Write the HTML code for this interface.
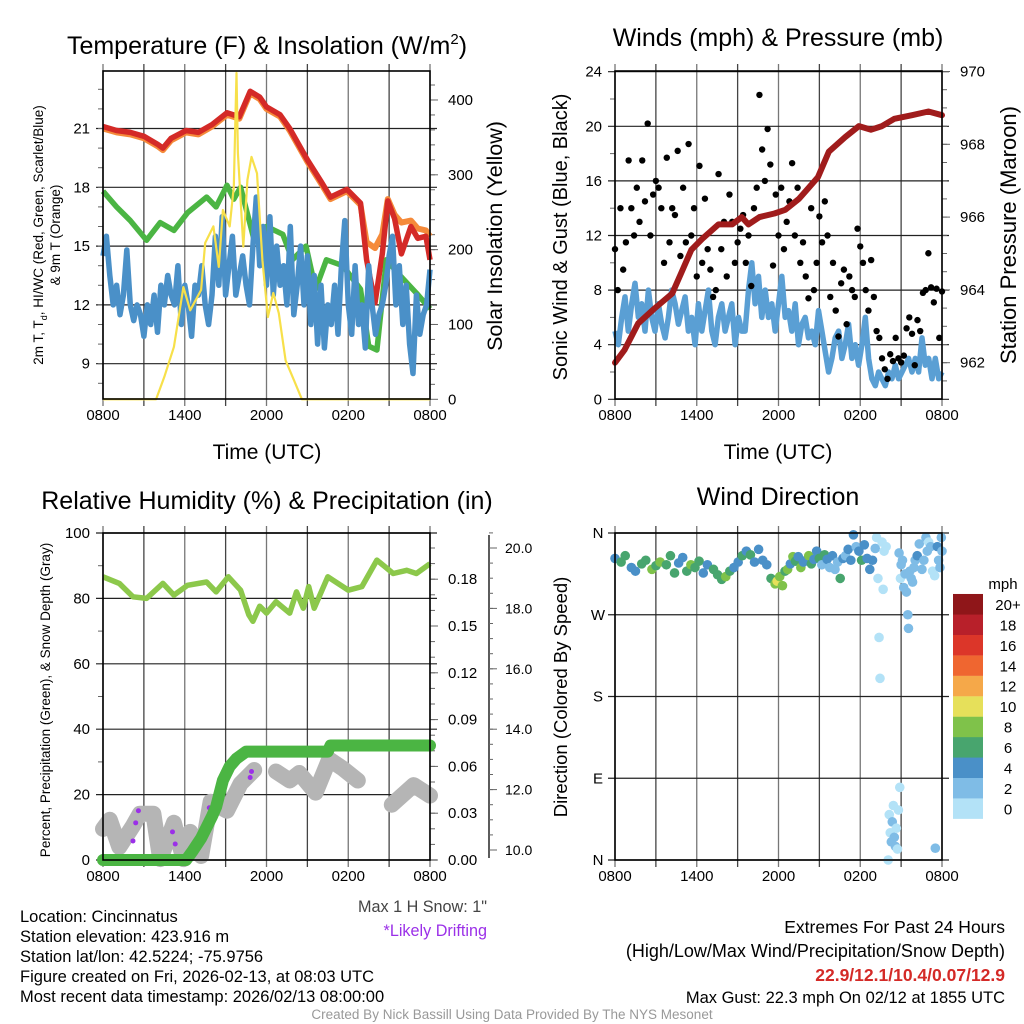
<!DOCTYPE html>
<html><head><meta charset="utf-8"><style>
body{margin:0;background:#fff}
svg{display:block;font-family:"Liberation Sans",Arial,sans-serif}
</style></head><body>
<svg id="c" width="1024" height="1024" viewBox="0 0 1024 1024" xmlns="http://www.w3.org/2000/svg">
<g id="g"></g>
</svg>
<script>
// ---------- Panel 1 data ----------
const redT=[0,1,2,3,4,4.4,5,6.1,7,8,9.1,10,10.8,11.5,12,13,13.7,15,16,16.7,17.9,18.9,19.35,19.96,20.5,20.9,21.4,21.9,22.6,23.1,23.7,24];
const redV=[21.1,20.9,20.8,20.6,20.2,20.0,20.5,20.9,20.8,21.2,21.8,21.6,22.9,22.6,22.1,21.7,21.0,19.4,18.3,17.5,17.9,17.2,14.3,12.1,14.6,17.3,16.4,14.6,16.0,15.4,15.5,14.3];
const orgV=[21.0,20.8,20.7,20.5,20.1,19.9,20.4,20.8,20.7,21.1,21.7,21.5,22.8,22.5,22.0,21.6,20.9,19.3,18.2,17.4,17.8,17.1,15.2,14.9,15.6,17.4,16.6,16.2,16.3,15.9,15.8,15.5];
const grnT=[0,1,2,3.2,4.2,5.2,6.2,7.6,8.3,9.1,9.6,10.1,11.1,12,13.2,13.9,14.9,15.6,16.4,17.6,18.9,19.5,20.1,20.8,21.8,23,24];
const grnV=[17.8,17.0,16.3,15.3,16.2,15.8,16.7,17.5,17.0,18.1,17.4,18.0,15.3,16.0,15.6,14.3,15.0,12.8,14.3,14.0,12.8,9.9,9.7,14.3,13.5,12.6,11.8];
const bluV=[14.5,15.5,13.5,12,13,11.5,12.5,14.8,12,11.2,12,11.5,10.4,12,11,12.5,10.6,13,12,13.5,12.5,12,14,11,13,12,10.4,13,12.5,14,12,11,12.5,15.5,13,16.5,12.5,14,15.5,12.5,13.5,14.5,13,12,15,17.5,14,16,13,16.5,12.5,15,13,14,12,16,11.5,13,15,12,14.5,11,13.5,10,13,9.8,12,11,13,10.5,14,16.3,12,10.5,14,11,12,9.8,14,12,10.5,11.5,12,13,14.5,15.5,12,14,11,13,10,8.5,12.5,10.5,11.5,12,13.8];
const solT=[0,3.9,4.5,5.2,5.9,6.4,7.2,7.5,8.1,8.5,8.8,9.3,9.6,9.8,9.9,10.3,10.6,10.9,11.3,11.7,12.1,12.5,12.9,13.4,14.0,14.6,24];
const solV=[0,0,30,70,150,119,146,209,231,177,253,231,284,436,329,204,293,324,302,186,110,142,115,52,26,0,0];
// ---------- Panel 2 data ----------
const presT=[0,0.7,1.7,2.9,4.2,4.9,5.6,6.4,7.6,8.6,9.3,9.8,10.6,11.7,12.5,13.5,14.2,14.9,15.7,16.9,17.9,18.8,19.6,20.5,21.8,23,24];
const presV=[962.0,962.35,963.08,963.49,963.9,964.5,965.1,965.4,965.8,965.8,966.0,965.8,966.0,966.1,966.2,966.5,966.8,967.1,967.8,968.2,968.5,968.4,968.5,968.7,968.8,968.9,968.8];
const windV=[5,4,6,7.5,5,7,8.5,6,7,5,8,6,5,7,5.5,4.5,6,8,7,5.5,6.5,7.5,5,6,4,7,5,6.5,8,5,4,6,7,5,6,7,4,6,5,5,8,10,7,9,6,8,6,7,5,7,9,6,6.5,5,7,4,5.5,6,4.5,5,4,6.5,5,3.5,2,3,4.5,5,3,4,5.5,3,4,2.5,4,6,3,1.5,1,2,1.5,1,2,1.5,2.5,1.5,2,2.5,3,2,3,2,4.5,2.5,3,1.5,3,1.5,2];
const gustV=[11,8,14,9.5,11.5,17.5,14,12,15.5,13,17.5,14.5,20.2,12,15,16,15.5,14,10,17.7,11.5,14,13.5,18.2,10.5,15.5,11.5,18.7,12,14,9,17.1,10,14.7,11,9.5,7.5,8,16.5,11,13,9,15,13,10,11.5,12.5,13.5,10,12,8.3,14,15.5,22.3,18.3,16,19.8,17.2,9.8,15,12,15.5,11,13,14.5,17.3,12,15.5,10,11.5,9,7.4,14,8,10,13.4,11.5,14.5,12,7.5,10,6.5,4.6,8.5,9.5,5.5,9,8,7.5,12.5,11.2,10,8,6.5,10.2,7.5,5,4.5,3,2.2,1.5,3.3,2.8,4.5,3,2.7,3.2,5.2,6,4.8,2.5,5.8,5,7.8,8,10.7,8.2,7.1,8.1,4.5,7.9];
// ---------- Panel 3 data ----------
const rhT=[0,1.2,2.2,3.2,4.4,5.2,6.2,7.6,8.3,9.2,10.1,10.7,11.0,11.5,12,12.7,13.7,14.2,14.7,15.1,15.5,16.5,18,19,20.1,21.3,22.3,23,24];
const rhV=[86.6,84.6,80.5,80,84.6,81,84,85,82,86.6,82.5,75,73,77.6,75.5,79,75.5,82,77,83.6,77,86.6,82.5,83.6,91.7,87.6,88.6,87.6,90.6];
const prT=[0,1,2,3,4,5,6.1,6.6,7.2,7.6,8.0,8.3,8.8,9.3,9.8,10.5,12,14,16.5,16.7,18,20,22,24];
const prV=[0,0,0,0,0,0,0,0.006,0.014,0.021,0.028,0.034,0.051,0.060,0.065,0.0695,0.0695,0.0695,0.0695,0.0734,0.0734,0.0734,0.0734,0.0734];
const snT=[0,0.5,1.2,2.2,2.7,3.7,4.2,5.2,5.9,6.4,7.2,7.9,9.1,10.1,11.1,11.5,12.5,12.7,13.7,14.4,15.6,16.6,17.6,18.7,19.0,21.0,21.2,22.8,24];
const snV=[10.7,11.0,10.1,10.8,11.2,11.2,9.7,10.9,9.7,10.6,9.8,11.6,11.3,12.2,12.65,null,null,12.6,12.3,12.55,11.9,13.0,12.7,12.3,null,null,11.5,12.15,11.8];
const drT=[2.2,2.4,2.6,5.1,5.3,7.6,7.8,10.8,10.9];
const drV=[10.3,10.9,11.3,10.6,10.2,11.0,11.4,12.4,12.6];
// ---------- Panel 4 data ----------
const dirT=[0,0.45,0.75,1.2,1.5,1.96,2.26,2.71,3.01,3.31,3.77,4.07,4.37,4.67,4.97,5.27,5.57,5.87,6.17,6.48,6.78,7.23,7.53,7.83,8.13,8.43,8.73,9.04,9.34,9.64,9.94,10.24,10.54,10.84,11.14,11.45,11.75,11.9,12.09,12.29,12.48,12.67,12.87,13.06,13.25,13.45,13.64,13.83,14.02,14.22,14.41,14.6,14.8,14.99,15.18,15.38,15.57,15.76,15.96,16.15,16.34,16.53,16.73,16.92,17.11,17.31,17.5,17.7,17.9,18.1,18.3,18.5,18.7,18.9,19.1,19.2,19.3,19.38,19.45,19.6,19.68,19.75,19.9,20.05,20.13,20.2,20.28,20.35,20.43,20.5,20.58,20.65,20.73,20.8,20.85,20.9,20.95,21.0,21.1,21.19,21.29,21.39,21.49,21.54,21.64,21.74,21.84,21.94,22.03,22.18,22.33,22.53,22.67,22.82,22.92,23.02,23.17,23.31,23.46,23.51,23.66,23.75,23.85,23.95,24.0];
const dirV=[332,328,335,322,318,326,330,320,324,328,325,335,316,327,333,318,325,322,329,316,325,320,314,309,312,318,322,328,335,340,336,328,342,330,325,310,304,307,312,302,318,320,326,334,329,334,322,328,330,335,326,331,340,332,325,336,331,322,335,320,328,310,332,335,342,330,358,345,340,330,347,332,320,330,343,355,310,245,200,350,298,340,345,0,50,30,20,42,60,25,15,35,12,55,338,80,310,325,330,300,315,295,270,255,318,310,306,322,330,335,348,320,330,355,340,350,345,318,313,13,345,330,322,355,340];
const dirS=[5,6,6,5,4,7,6,8,7,8,6,7,6,5,4,6,8,7,6,5,4,6,6,6,8,6,4,5,6,4,6,5,4,4,4,6,8,10,8,8,6,8,5,8,6,4,8,5,4,8,6,4,4,6,3,6,5,3,4,3,2,6,4,3,4,4,4,3,4,6,4,4,4,4,2,1,0,0,1,1,1,0,1,1,1,1,2,2,1,3,2,1,1,0,2,1,1,2,2,2,2,3,3,3,2,2,2,2,2,4,2,3,3,2,3,1,2,1,1,3,4,2,3,2,3];
const cbLabels=['0','2','4','6','8','10','12','14','16','18','20+'];
const cbColors=['#b3e2f7','#7fbce6','#4a90c8','#48a56e','#7fc24a','#e6e05a','#f5a849','#ef6630','#dc3629','#b8202a','#8f1619'];
const timeLabels=['0800','1400','2000','0200','0800'];

const NS='http://www.w3.org/2000/svg';
const G=document.getElementById('g');
function el(tag,attrs,txt){const e=document.createElementNS(NS,tag);for(const k in attrs)e.setAttribute(k,attrs[k]);if(txt!==undefined)e.textContent=txt;G.appendChild(e);return e;}
function pathOf(ts,vs,fx,fy){let d='',pen=false;for(let i=0;i<ts.length;i++){if(vs[i]===null){pen=false;continue;}d+=(pen?'L':'M')+fx(ts[i]).toFixed(1)+','+fy(vs[i]).toFixed(1);pen=true;}return d;}

function frame(L,R,T,B,name){
  for(let k=0;k<=8;k++){const x=L+k*(R-L)/8;
    const ln=el('line',{x1:x,y1:T-7,x2:x,y2:B+7,stroke:k%2?'#444':'#777','stroke-width':1.3});
    }
  for(let k=0;k<5;k++){const x=L+k*(R-L)/4;
    const t=el('text',{x:x,y:B+21,'font-size':15,'text-anchor':'middle'},timeLabels[k]);
    }
}
function hgrid(L,R,y,w){el('line',{x1:L-7,y1:y,x2:R+7,y2:y,stroke:'#222','stroke-width':w||1.2,});}
function tick(x,y,len){el('line',{x1:x,y1:y,x2:x+len,y2:y,stroke:'#666','stroke-width':1});}
function box(L,R,T,B,name){const r=el('rect',{x:L,y:T,width:R-L,height:B-T,fill:'none',stroke:'#000','stroke-width':1.6});}
function txt(x,y,s,size,attrs,name){const a=Object.assign({x:x,y:y,'font-size':size},attrs||{});const t=el('text',a,s);return t;}
function vtxt(x,y,s,size,name){const t=el('text',{x:0,y:0,'font-size':size,'text-anchor':'middle',transform:`translate(${x},${y}) rotate(-90)`},s);return t;}

// ===== Panel 1 =====
{const L=103,R=430,T=71,B=399;
 const X=t=>L+t/24*(R-L), Y=v=>128.5+(21-v)*19.6, YS=v=>399.3-v*0.7483;
 frame(L,R,T,B,'temp');
 [21,18,15,12,9].forEach(v=>{hgrid(L,R,Y(v));txt(L-13,Y(v)+5,String(v),15,{'text-anchor':'end'},'temp-y-tick-label');});
 for(let v=8;v<=23;v++)tick(L-5,Y(v),5);
 [0,100,200,300,400].forEach(v=>{tick(R,YS(v),8);txt(R+18,YS(v)+5,String(v),15,{},'solar-y-tick-label');});
 for(let v=20;v<=430;v+=20)tick(R,YS(v),5);
 let p;
 p=el('path',{d:pathOf(redT,orgV,X,Y),fill:'none',stroke:'#f58a3a','stroke-width':6,'stroke-linejoin':'round'});
 p=el('path',{d:pathOf(redT,redV,X,Y),fill:'none',stroke:'#d42a27','stroke-width':5.5,'stroke-linejoin':'round'});
 p=el('path',{d:pathOf(grnT,grnV,X,Y),fill:'none',stroke:'#4bb543','stroke-width':5.5,'stroke-linejoin':'round'});
 p=el('path',{d:pathOf(bluV.map((_,i)=>i*24/(bluV.length-1)),bluV,X,Y),fill:'none',stroke:'#4a90c8','stroke-width':5.5,'stroke-linejoin':'round'});
 p=el('path',{d:pathOf(solT,solV,X,YS),fill:'none',stroke:'#f7e04a','stroke-width':2.2,'stroke-linejoin':'round'});
 box(L,R,T,B,'temp-plot-frame');
 const tt=el('text',{x:267,y:54,'font-size':25,'text-anchor':'middle'});tt.innerHTML='Temperature (F) &amp; Insolation (W/m<tspan dy="-10" font-size="15">2</tspan><tspan dy="10">)</tspan>';
 
 txt(267,459,'Time (UTC)',21,{'text-anchor':'middle'},'temp-x-axis-title');
 const yl=el('text',{x:0,y:0,'font-size':13.5,'text-anchor':'middle',transform:'translate(43,235) rotate(-90)'});yl.innerHTML='2m T, T<tspan dy="4" font-size="9">d</tspan><tspan dy="-4">, HI/WC (Red, Green, Scarlet/Blue)</tspan>';
 
 vtxt(60,235,'& 9m T (Orange)',13.5,'temp-y-axis-title-2');
 vtxt(502,236,'Solar Insolation (Yellow)',21.5,'solar-y-axis-title');
}
// ===== Panel 2 =====
{const L=615,R=942,T=71,B=399;
 const X=t=>L+t/24*(R-L), Y=v=>399.3-v*13.65, YP=p=>362.7-(p-962)*36.4;
 frame(L,R,T,B,'wind');
 [0,4,8,12,16,20,24].forEach(v=>{hgrid(L,R,Y(v));txt(L-13,Y(v)+5,String(v),15,{'text-anchor':'end'},'wind-y-tick-label');});
 for(let v=2;v<24;v+=4)tick(L-5,Y(v),5);
 [962,964,966,968,970].forEach(v=>{tick(R,YP(v),8);txt(R+18,YP(v)+5,String(v),15,{},'pressure-y-tick-label');});
 for(let v=961.5;v<970;v+=0.5)tick(R,YP(v),5);
 let p=el('path',{d:pathOf(windV.map((_,i)=>i*24/(windV.length-1)),windV,X,Y),fill:'none',stroke:'#5a9fd4','stroke-width':5.5,'stroke-linejoin':'round'});
 gustV.forEach((v,i)=>{const c=el('circle',{cx:X(i*24/(gustV.length-1)),cy:Y(v),r:3.2,fill:'#000'});
  });
 p=el('path',{d:pathOf(presT,presV,X,YP),fill:'none',stroke:'#a01c1c','stroke-width':6,'stroke-linejoin':'round','stroke-linecap':'round'});
 box(L,R,T,B,'wind-plot-frame');
 txt(778,46,'Winds (mph) & Pressure (mb)',25,{'text-anchor':'middle'},'wind-title');
 txt(778,459,'Time (UTC)',21,{'text-anchor':'middle'},'wind-x-axis-title');
 vtxt(567,237,'Sonic Wind & Gust (Blue, Black)',20,'wind-y-axis-title');
 vtxt(1016,235,'Station Pressure (Maroon)',22,'pressure-y-axis-title');
}
// ===== Panel 3 =====
{const L=103,R=430,T=533,B=860;
 const X=t=>L+t/24*(R-L), Y=v=>860-v*3.27, YR=v=>860-v*1560, YS=v=>850-(v-10)*30.2;
 frame(L,R,T,B,'rh');
 [0,20,40,60,80,100].forEach(v=>{hgrid(L,R,Y(v));txt(L-13,Y(v)+5,String(v),15,{'text-anchor':'end'},'rh-y-tick-label');});
 for(let v=10;v<100;v+=20)tick(L-5,Y(v),5);
 ['0.00','0.03','0.06','0.09','0.12','0.15','0.18'].forEach(s=>{const v=parseFloat(s);tick(R,YR(v),8);txt(R+18,YR(v)+5,s,15,{},'precip-y-tick-label');});
 for(let v=0.01;v<0.21;v+=0.01)tick(R,YR(v),5);
 el('line',{x1:489,y1:535,x2:489,y2:858,stroke:'#333','stroke-width':1.6,});
 ['10.0','12.0','14.0','16.0','18.0','20.0'].forEach(s=>{const v=parseFloat(s);tick(489,YS(v),8);txt(505,YS(v)+5,s,14,{},'snow-y-tick-label');});
 for(let v=10;v<=20.6;v+=0.5)tick(489,YS(v),4);
 let p=el('path',{d:pathOf(rhT,rhV,X,Y),fill:'none',stroke:'#8cc84b','stroke-width':5.5,'stroke-linejoin':'round'});
 p=el('path',{d:pathOf(snT,snV,X,YS),fill:'none',stroke:'#b5b5b5','stroke-width':16,'stroke-linejoin':'round','stroke-linecap':'round'});
 drT.forEach((t,i)=>{const c=el('circle',{cx:X(t),cy:YS(drV[i]),r:2.5,fill:'#9b30e8'});});
 p=el('path',{d:pathOf(prT,prV,X,YR),fill:'none',stroke:'#4bb543','stroke-width':12,'stroke-linejoin':'round','stroke-linecap':'round'});
 box(L,R,T,B,'rh-plot-frame');
 txt(267,509,'Relative Humidity (%) & Precipitation (in)',25,{'text-anchor':'middle'},'rh-title');
 vtxt(50,700,'Percent, Precipitation (Green), & Snow Depth (Gray)',13.5,'rh-y-axis-title');
}
// ===== Panel 4 =====
{const L=615,R=942,T=533,B=860;
 const X=t=>L+t/24*(R-L), Y=d=>860-d*327/360;
 frame(L,R,T,B,'dir');
 ['N','E','S','W','N'].forEach((s,i)=>{const d=i*90;hgrid(L,R,Y(d));txt(L-17,Y(d)+5,s,15,{'text-anchor':'middle'},'dir-y-tick-label');});
 dirT.forEach((t,i)=>{const b=Math.min(10,Math.floor(dirS[i]/2));const c=el('circle',{cx:X(t),cy:Y(dirV[i]),r:4.8,fill:cbColors[b]});
  });
 box(L,R,T,B,'dir-plot-frame');
 txt(778,505,'Wind Direction',25,{'text-anchor':'middle'},'dir-title');
 vtxt(567,697,'Direction (Colored By Speed)',18.5,'dir-y-axis-title');
 txt(1003,589,'mph',15,{'text-anchor':'middle'},'colorbar-title');
 cbColors.forEach((c,i)=>{const y=818.7-(i+1)*20.43;const r=el('rect',{x:953,y:y,width:30,height:20.6,fill:c});
  
  txt(1008,y+16,cbLabels[i],15,{'text-anchor':'middle'},'colorbar-label');});
}
// ===== Footer =====
['Location: Cincinnatus','Station elevation: 423.916 m','Station lat/lon: 42.5224; -75.9756','Figure created on Fri, 2026-02-13, at 08:03 UTC','Most recent data timestamp: 2026/02/13 08:00:00'].forEach((s,i)=>txt(20,922+i*20,s,16.5,{},'station-info-line'));
txt(487,912,'Max 1 H Snow: 1"',16.2,{'text-anchor':'end',fill:'#444'},'max-snow-note');
txt(487,936,'*Likely Drifting',16.2,{'text-anchor':'end',fill:'#9b30e8'},'drifting-note');
txt(1005,933,'Extremes For Past 24 Hours',17.5,{'text-anchor':'end'},'extremes-title');
txt(1005,957,'(High/Low/Max Wind/Precipitation/Snow Depth)',18,{'text-anchor':'end'},'extremes-subtitle');
txt(1005,981,'22.9/12.1/10.4/0.07/12.9',17.5,{'text-anchor':'end',fill:'#d42a27','font-weight':'bold'},'extremes-values');
txt(1005,1003,'Max Gust: 22.3 mph On 02/12 at 1855 UTC',16.5,{'text-anchor':'end'},'max-gust');
txt(512,1019,'Created By Nick Bassill Using Data Provided By The NYS Mesonet',13.5,{'text-anchor':'middle',fill:'#999'},'credits');
</script>
</body></html>
